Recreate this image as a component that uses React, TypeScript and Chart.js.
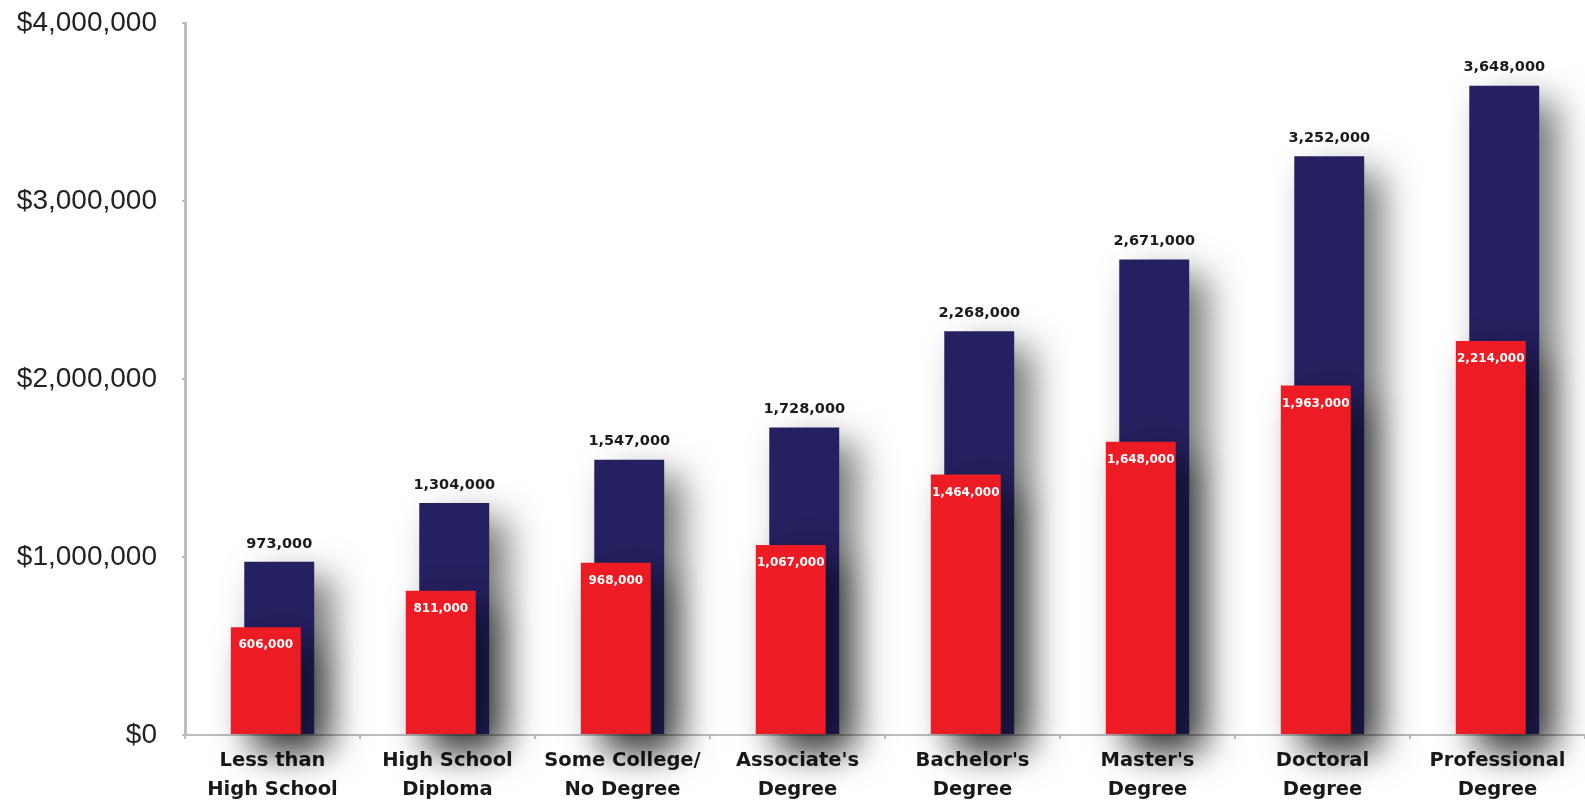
import React, { useEffect, useRef } from "react";
import { Chart, registerables } from "chart.js";

Chart.register(...registerables);

const categories: string[][] = [
  ["Less than", "High School"],
  ["High School", "Diploma"],
  ["Some College/", "No Degree"],
  ["Associate's", "Degree"],
  ["Bachelor's", "Degree"],
  ["Master's", "Degree"],
  ["Doctoral", "Degree"],
  ["Professional", "Degree"],
];

const totalValues: number[] = [973000, 1304000, 1547000, 1728000, 2268000, 2671000, 3252000, 3648000];
const redValues: number[] = [606000, 811000, 968000, 1067000, 1464000, 1648000, 1963000, 2214000];

const yTicks: number[] = [0, 1000000, 2000000, 3000000, 4000000];

const NAVY = "#25205f";
const RED = "#ed1c24";

const fmt = (v: number) => v.toLocaleString("en-US");

const shadowPlugin = {
  id: "barShadowAndLabels",
  beforeDatasetsDraw(chart: any) {
    const ctx = chart.ctx;
    ctx.save();
    ctx.shadowColor = "rgba(0,0,0,0.55)";
    ctx.shadowBlur = 36;
    ctx.shadowOffsetX = 18;
    ctx.shadowOffsetY = 16;
  },
  afterDatasetsDraw(chart: any) {
    const ctx = chart.ctx;
    ctx.restore();
    ctx.save();
    ctx.textAlign = "center";
    ctx.textBaseline = "middle";
    const navyMeta = chart.getDatasetMeta(1);
    ctx.fillStyle = "#1a1a1a";
    ctx.font = "bold 14.5px 'DejaVu Sans'";
    navyMeta.data.forEach((bar: any, i: number) => {
      ctx.fillText(fmt(totalValues[i]), bar.x, bar.y - 18);
    });
    const redMeta = chart.getDatasetMeta(0);
    ctx.fillStyle = "#ffffff";
    ctx.font = "bold 12px 'DejaVu Sans'";
    redMeta.data.forEach((bar: any, i: number) => {
      ctx.fillText(fmt(redValues[i]), bar.x, bar.y + 18);
    });
    ctx.restore();
  },
};

export default function App() {
  const ref = useRef<HTMLCanvasElement | null>(null);
  useEffect(() => {
    if (!ref.current) return;
    const chart = new Chart(ref.current, {
      type: "bar",
      data: {
        labels: categories,
        datasets: [
          {
            label: "Red",
            data: redValues,
            backgroundColor: RED,
            borderWidth: 0,
            clip: false as any,
          },
          {
            label: "Total",
            data: totalValues,
            backgroundColor: NAVY,
            borderWidth: 0,
            clip: false as any,
          },
        ],
      },
      options: {
        responsive: false,
        animation: false,
        events: [],
        layout: { padding: { top: 23, right: 0, bottom: 0, left: 0 } },
        categoryPercentage: 0.154,
        barPercentage: 5.19,
        plugins: {
          legend: { display: false },
          tooltip: { enabled: false },
        },
        scales: {
          x: {
            z: 1,
            grid: {
              display: true,
              drawOnChartArea: false,
              drawTicks: true,
              tickLength: 4,
              color: "#bdbdbd",
              lineWidth: 2,
            },
            border: { display: true, color: "#bdbdbd", width: 2 },
            ticks: {
              color: "#1a1a1a",
              padding: 8,
              maxRotation: 0,
              autoSkip: false,
              font: { family: "'DejaVu Sans'", size: 19.5, weight: "bold", lineHeight: 1.48 },
            },
            afterFit: (s: any) => {
              s.height = 74;
            },
          },
          y: {
            min: 0,
            max: 4000000,
            afterBuildTicks: (s: any) => {
              s.ticks = yTicks.map((v) => ({ value: v }));
            },
            grid: {
              display: true,
              drawOnChartArea: false,
              drawTicks: true,
              tickLength: 3,
              color: "#bdbdbd",
              lineWidth: 2,
            },
            border: { display: true, color: "#bdbdbd", width: 3 },
            ticks: {
              color: "#222222",
              padding: 25,
              font: { family: "'Liberation Sans'", size: 28 },
              callback: (v: any) => "$" + Number(v).toLocaleString("en-US"),
            },
            afterFit: (s: any) => {
              s.width = 185;
              s.paddingTop = 0;
              s.paddingBottom = 0;
            },
          },
        },
      },
      plugins: [shadowPlugin],
    } as any);
    return () => chart.destroy();
  }, []);
  return (
    <div style={{ position: "absolute", left: 0, top: 0, width: 1585, height: 809, background: "#fff" }}>
      <canvas ref={ref} width={1585} height={809} style={{ display: "block" }} />
    </div>
  );
}
